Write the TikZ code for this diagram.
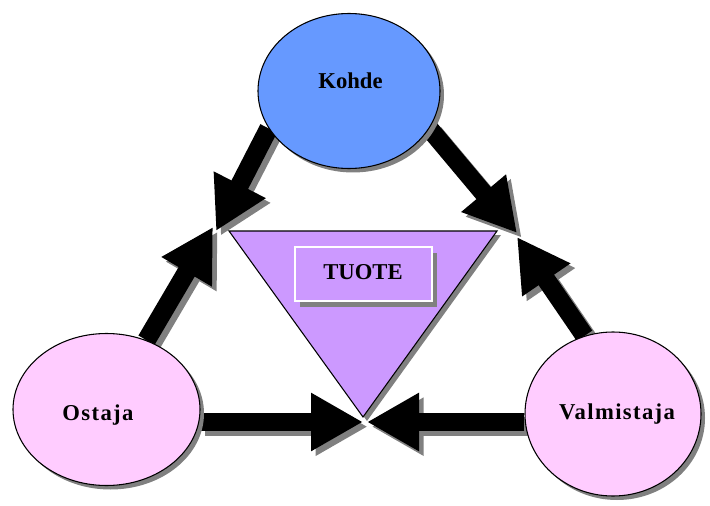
\documentclass[tikz,border=0pt]{standalone}
\usepackage{fontspec}
\setmainfont{Liberation Serif}
\usetikzlibrary{arrows.meta,shapes.geometric,shadows}
\definecolor{kohdeblue}{HTML}{6699FF}
\definecolor{partypink}{HTML}{FFCCFF}
\definecolor{productviolet}{HTML}{CC99FF}
\definecolor{shadowgray}{HTML}{808080}
\pgfdeclarelayer{flows}
\pgfsetlayers{flows,main}
\begin{document}
\begin{tikzpicture}[x=0.75pt,y=-0.75pt,
  party/.style={ellipse, draw=black, line width=0.8pt, inner sep=0pt,
    general shadow={fill=shadowgray, shadow xshift=3pt, shadow yshift=-3pt}},
  caption/.style={anchor=base, inner sep=0pt, font=\bfseries\fontsize{17}{20}\selectfont},
  spaced/.style={caption, font=\bfseries\fontsize{17}{20}\selectfont\addfontfeatures{LetterSpace=6}},
  flow/.style={draw=black, line width=14pt, -{Triangle[length=39pt,width=41pt]}},
  flowshadow/.style={flow, draw=shadowgray, fill=shadowgray,
    transform canvas={shift={(3.5pt,-3.5pt)}}}]
\useasboundingbox (0,0) rectangle (710,506);

% the three parties
\node[party, fill=kohdeblue, minimum width=136.5pt, minimum height=116.25pt] (kohde) at (349,91) {};
\node[party, fill=partypink, minimum width=140.25pt, minimum height=114pt] (ostaja) at (106.5,409.5) {};
\node[party, fill=partypink, minimum width=132pt, minimum height=123pt] (valmistaja) at (613,414) {};
\node[caption] (kohdetext) at (350.5,89) {Kohde};
\node[spaced] (ostajatext) at (98,420) {Ostaja};
\node[spaced] (valmistajatext) at (617,419.5) {Valmistaja};

% the product in the middle
\filldraw[fill=productviolet, draw=black, line width=0.8pt,
  general shadow={fill=shadowgray, shadow xshift=3pt, shadow yshift=-3pt}]
  (229,231) -- (497,231) -- (363,417) -- cycle;
\node[draw=white, line width=1.2pt, fill=productviolet, inner sep=0pt,
  minimum width=102.75pt, minimum height=40.5pt,
  general shadow={fill=shadowgray, shadow xshift=4pt, shadow yshift=-4.5pt}]
  (tuotebox) at (363.5,274) {};
\node[caption] (tuote) at (363,279) {TUOTE};

% arrow tips
\coordinate (leftdown) at (216,231);
\coordinate (leftup) at (213,227);
\coordinate (rightdown) at (517,233);
\coordinate (rightup) at (517,237);
\coordinate (bottomleft) at (363,422);
\coordinate (bottomright) at (367,422);

\begin{pgfonlayer}{flows}
  \foreach \style in {flowshadow,flow}{
    \draw[\style] (kohde.205) -- (leftdown);
    \draw[\style] (ostaja.60) -- (leftup);
    \draw[\style] (kohde.335) -- (rightdown);
    \draw[\style] (valmistaja.110) -- (rightup);
    \draw[\style] (ostaja.east |- bottomleft) -- (bottomleft);
    \draw[\style] (valmistaja.west |- bottomright) -- (bottomright);
  }
\end{pgfonlayer}
\end{tikzpicture}
\end{document}
